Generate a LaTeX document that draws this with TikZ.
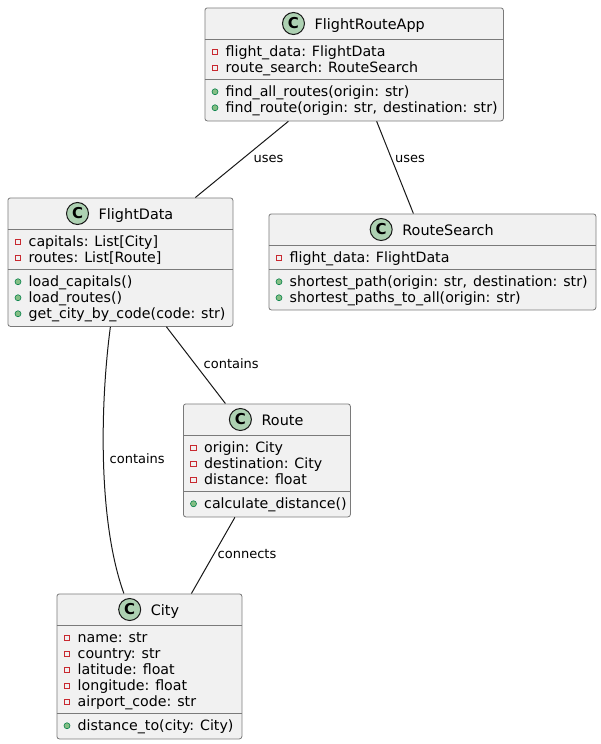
\documentclass[tikz,border=0pt]{standalone}
\usepackage{fontspec}
\setmainfont[WordSpace=1.3]{DejaVu Sans}
\usetikzlibrary{calc}
\frenchspacing

\definecolor{cline}{HTML}{181818}
\definecolor{cborder}{HTML}{7A7A7A}
\definecolor{cfill}{HTML}{F1F1F1}
\definecolor{ciconfill}{HTML}{ADD1B2}
\definecolor{cpriv}{HTML}{C82930}
\definecolor{cpubfill}{HTML}{84BE84}
\definecolor{cpubline}{HTML}{038048}

\tikzset{
  classbox/.style={draw=cborder, line width=0.8pt, fill=cfill, rounded corners=2.5pt,
    anchor=north west, inner sep=0pt},
  sepline/.style={draw=cborder, line width=0.8pt},
  classtitle/.style={anchor=base, inner sep=0pt, text height=12pt, text depth=0pt,
    font=\fontsize{14.4}{16}\selectfont\frenchspacing},
  classicon/.style={circle, minimum size=22pt, inner sep=0pt, fill=ciconfill,
    draw=cline, line width=1pt, font=\fontsize{15}{15}\selectfont\bfseries},
  member/.style={anchor=base west, inner sep=0pt, font=\fontsize{14.2}{16}\selectfont\frenchspacing},
  privicon/.style={rectangle, minimum size=5.5pt, inner sep=0pt, draw=cpriv, line width=0.9pt},
  pubicon/.style={circle, minimum size=6pt, inner sep=0pt, fill=cpubfill, draw=cpubline, line width=0.6pt},
  assoc/.style={draw=cline, line width=1pt},
  assoclabel/.style={anchor=base west, inner sep=0pt, font=\fontsize{13}{15}\selectfont},
}

% one member row: kind (privicon/pubicon), box left edge, baseline, node name, text
\newcommand\memberrow[5]{%
  \node[#1] at (#2+10.5,#3-4.75) {};
  \node[member] (#4) at (#2+21,#3) {#5};%
}
% one class header: box name, box centre x, box top, title
\newcommand\classhead[4]{%
  \node[classtitle] (#1-t) at (#2+16,#3+22) {#4};
  \node[classicon] (#1-c) at ([xshift=-21pt]#1-t.west) {C};
  \draw[sepline] ([yshift=-32pt]#1.north west) -- ([yshift=-32pt]#1.north east);%
}

\begin{document}
\begin{tikzpicture}[x=1pt,y=-1pt]
\useasboundingbox (0,0) rectangle (601,744);

% ---------- FlightRouteApp ----------
\node[classbox, minimum width=298.5pt, minimum height=113pt] (app) at (204.5,7.5) {};
\classhead{app}{353.75}{7.5}{FlightRouteApp}
\memberrow{privicon}{204.5}{56.5}{app-f1}{flight\_data: FlightData}
\memberrow{privicon}{204.5}{72.5}{app-f2}{route\_search: RouteSearch}
\draw[sepline] (204.5,79) -- (503,79);
\memberrow{pubicon}{204.5}{96.5}{app-m1}{find\_all\_routes(origin: str)}
\memberrow{pubicon}{204.5}{112.5}{app-m2}{find\_route(origin: str, destination: str)}

% ---------- FlightData ----------
\node[classbox, minimum width=225pt, minimum height=128.5pt] (fd) at (7.5,197.5) {};
\classhead{fd}{120}{197.5}{FlightData}
\memberrow{privicon}{7.5}{246.5}{fd-f1}{capitals: List[City]}
\memberrow{privicon}{7.5}{262.5}{fd-f2}{routes: List[Route]}
\draw[sepline] (7.5,269) -- (232.5,269);
\memberrow{pubicon}{7.5}{286.5}{fd-m1}{load\_capitals()}
\memberrow{pubicon}{7.5}{302.5}{fd-m2}{load\_routes()}
\memberrow{pubicon}{7.5}{318.5}{fd-m3}{get\_city\_by\_code(code: str)}

% ---------- RouteSearch ----------
\node[classbox, minimum width=327pt, minimum height=96pt] (rs) at (268.5,213.5) {};
\classhead{rs}{432}{213.5}{RouteSearch}
\memberrow{privicon}{268.5}{262.5}{rs-f1}{flight\_data: FlightData}
\draw[sepline] (268.5,269) -- (595.5,269);
\memberrow{pubicon}{268.5}{286.5}{rs-m1}{shortest\_path(origin: str, destination: str)}
\memberrow{pubicon}{268.5}{302.5}{rs-m2}{shortest\_paths\_to\_all(origin: str)}

% ---------- Route ----------
\node[classbox, minimum width=167pt, minimum height=113pt] (route) at (183,403.5) {};
\classhead{route}{266.5}{403.5}{Route}
\memberrow{privicon}{183}{452.5}{route-f1}{origin: City}
\memberrow{privicon}{183}{468.5}{route-f2}{destination: City}
\memberrow{privicon}{183}{484.5}{route-f3}{distance: float}
\draw[sepline] (183,491) -- (350,491);
\memberrow{pubicon}{183}{508.5}{route-m1}{calculate\_distance()}

% ---------- City ----------
\node[classbox, minimum width=185pt, minimum height=145pt] (city) at (56.5,593.5) {};
\classhead{city}{149}{593.5}{City}
\memberrow{privicon}{56.5}{642.5}{city-f1}{name: str}
\memberrow{privicon}{56.5}{658.5}{city-f2}{country: str}
\memberrow{privicon}{56.5}{674.5}{city-f3}{latitude: float}
\memberrow{privicon}{56.5}{690.5}{city-f4}{longitude: float}
\memberrow{privicon}{56.5}{706.5}{city-f5}{airport\_code: str}
\draw[sepline] (56.5,713) -- (241.5,713);
\memberrow{pubicon}{56.5}{730.5}{city-m1}{distance\_to(city: City)}

% ---------- associations ----------
\draw[assoc] ([xshift=-65.75pt]app.south) -- ([xshift=75pt]fd.north);
\node[assoclabel] (l-uses1) at (253.5,162.5) {uses};

\draw[assoc] ([xshift=22.5pt]app.south) -- ([xshift=-19pt]rs.north);
\node[assoclabel] (l-uses2) at (395,162.5) {uses};

\draw[assoc] ([xshift=46pt]fd.south) -- ([xshift=-41.5pt]route.north);
\node[assoclabel] (l-contains1) at (203.5,368.5) {contains};

\draw[assoc] ([xshift=-10pt]fd.south) .. controls +(-10,75) and +(-26.5,-73.5) .. ([xshift=-25.5pt]city.north);
\node[assoclabel] (l-contains2) at (109.5,463.5) {contains};

\draw[assoc] ([xshift=-32pt]route.south) -- ([xshift=42pt]city.north);
\node[assoclabel] (l-connects) at (217.5,558.5) {connects};

\end{tikzpicture}
\end{document}
